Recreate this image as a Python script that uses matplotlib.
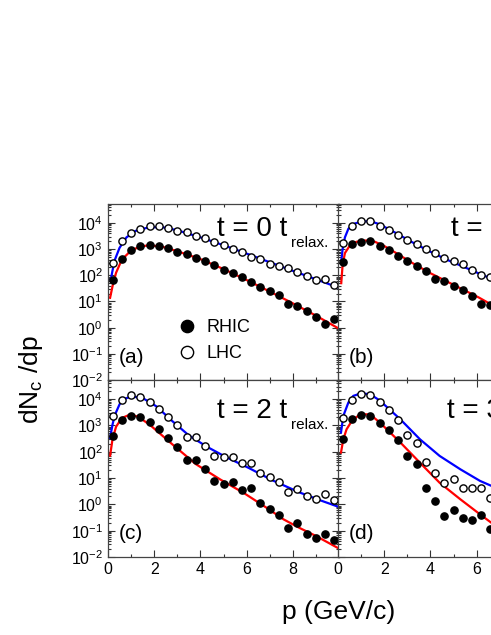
import numpy as np
import matplotlib
matplotlib.use("Agg")
import matplotlib.pyplot as plt
from matplotlib.ticker import LogLocator, MultipleLocator, NullFormatter

plt.rcParams['font.family'] = ['Liberation Sans', 'DejaVu Sans']
plt.rcParams['mathtext.default'] = 'regular'

# momentum of the data points (GeV/c)
p_pts = [0.2, 0.6, 1.0, 1.4, 1.8, 2.2, 2.6, 3.0, 3.4, 3.8, 4.2, 4.6, 5.0,
         5.4, 5.8, 6.2, 6.6, 7.0, 7.4, 7.8, 8.2, 8.6, 9.0, 9.4, 9.8]

# all values below are log10(dN/dp)
# (a) t = 0
lhc_a = [2.46, 3.32, 3.62, 3.76, 3.88, 3.88, 3.79, 3.70, 3.64, 3.51, 3.41, 3.27, 3.16,
         3.02, 2.88, 2.71, 2.61, 2.44, 2.36, 2.27, 2.13, 1.96, 1.83, 1.87, 1.63]
rhic_a = [1.81, 2.64, 2.95, 3.11, 3.16, 3.12, 3.03, 2.90, 2.80, 2.68, 2.54, 2.39, 2.22,
          2.08, 1.92, 1.73, 1.55, 1.40, 1.24, 0.91, 0.82, 0.63, 0.42, 0.13, 0.34]
pb_a = [0.12, 0.2, 0.3, 0.5, 0.8, 1.2, 1.8, 2.4, 3.0, 4.0, 5.0, 6.0, 7.0, 8.0, 9.0, 10.0]
blue_a = [1.83, 2.2, 2.6, 3.05, 3.45, 3.7, 3.84, 3.83, 3.72, 3.45, 3.15, 2.83, 2.5, 2.17, 1.85, 1.52]
pr_a = [0.09, 0.2, 0.35, 0.6, 1.0, 1.4, 1.8, 2.4, 3.0, 4.0, 5.0, 6.0, 7.0, 8.0, 9.0, 10.0]
red_a = [1.14, 1.6, 2.1, 2.6, 2.95, 3.1, 3.15, 3.08, 2.92, 2.62, 2.24, 1.82, 1.38, 0.93, 0.46, -0.04]

# (b) t = 1 (only the visible part)
lhc_b = [3.24, 3.90, 4.06, 4.09, 3.89, 3.75, 3.54, 3.35, 3.19, 2.99, 2.84, 2.68, 2.54,
         2.42, 2.21, 2.02, 1.93]
rhic_b = [2.50, 3.19, 3.28, 3.30, 3.13, 2.97, 2.75, 2.53, 2.34, 2.17, 1.87, 1.77, 1.58,
          1.43, 1.20, 0.92, 0.88]
pb_b = [0.15, 0.2, 0.3, 0.45, 0.7, 1.0, 1.4, 1.8, 2.5, 3.2, 4.0, 4.7, 5.4, 6.1, 6.7]
blue_b = [2.6, 3.0, 3.45, 3.78, 3.97, 4.05, 4.07, 3.95, 3.62, 3.27, 2.9, 2.6, 2.34, 2.07, 1.85]
pr_b = [0.14, 0.2, 0.3, 0.5, 0.8, 1.2, 1.6, 2.0, 2.5, 3.2, 4.0, 4.7, 5.4, 6.1, 6.7]
red_b = [1.7, 2.4, 2.85, 3.12, 3.28, 3.33, 3.28, 3.12, 2.86, 2.48, 2.08, 1.77, 1.46, 1.15, 0.85]

# (c) t = 2
lhc_c = [3.34, 3.97, 4.14, 4.08, 3.89, 3.63, 3.32, 3.00, 2.55, 2.56, 2.23, 1.85, 1.79,
         1.80, 1.59, 1.56, 1.18, 1.04, 0.85, 0.46, 0.60, 0.33, 0.19, 0.38, 0.16]
rhic_c = [2.59, 3.22, 3.37, 3.31, 3.12, 2.88, 2.52, 2.17, 1.70, 1.70, 1.35, 0.88, 0.79,
          0.86, 0.53, 0.64, 0.04, -0.16, -0.42, -0.88, -0.70, -1.12, -1.28, -1.12, -1.34]
pb_c = [0.09, 0.2, 0.3, 0.5, 0.7, 1.0, 1.5, 2.1, 2.8, 3.5, 4.3, 5.1, 6.1, 7.1, 8.3, 9.2, 10.0]
blue_c = [2.52, 3.05, 3.4, 3.8, 4.0, 4.1, 4.04, 3.72, 3.15, 2.62, 2.18, 1.8, 1.38, 0.92, 0.45, 0.15, -0.1]
pr_c = [0.09, 0.2, 0.35, 0.6, 0.95, 1.3, 1.8, 2.8, 3.8, 4.85, 5.9, 6.9, 7.6, 8.3, 9.0, 10.0]
red_c = [1.85, 2.5, 2.95, 3.28, 3.41, 3.33, 3.03, 2.27, 1.53, 0.95, 0.42, -0.15, -0.57, -0.9, -1.2, -1.68]

# (d) t = 3 (only the visible part)
lhc_d = [3.28, 3.97, 4.19, 4.14, 3.87, 3.57, 3.21, 2.64, 2.34, 1.60, 1.18, 0.80, 0.95,
         0.63, 0.63, 0.63, 0.25]
rhic_d = [2.50, 3.26, 3.41, 3.37, 3.09, 2.84, 2.45, 1.84, 1.52, 0.61, 0.12, -0.44, -0.22,
          -0.52, -0.58, -0.42, -0.95]
pb_d = [0.13, 0.23, 0.45, 0.66, 1.0, 1.4, 1.8, 2.7, 3.55, 4.4, 5.3, 6.15, 6.7]
blue_d = [2.73, 3.36, 3.87, 4.12, 4.22, 4.18, 3.95, 3.23, 2.47, 1.84, 1.33, 0.89, 0.68]
pr_d = [0.13, 0.23, 0.37, 0.6, 0.95, 1.25, 1.55, 1.82, 2.7, 3.55, 4.4, 5.3, 6.15, 6.7]
red_d = [1.97, 2.47, 2.85, 3.17, 3.42, 3.42, 3.3, 3.1, 2.35, 1.58, 0.82, 0.19, -0.38, -0.74]

panels = [
    ("(a)", "0", lhc_a, rhic_a, pb_a, blue_a, pr_a, red_a),
    ("(b)", "1", lhc_b, rhic_b, pb_b, blue_b, pr_b, red_b),
    ("(c)", "2", lhc_c, rhic_c, pb_c, blue_c, pr_c, red_c),
    ("(d)", "3", lhc_d, rhic_d, pb_d, blue_d, pr_d, red_d),
]

fig = plt.figure(figsize=(4.91, 6.35), dpi=100)
W, H = 491.0, 635.0
# axes boxes in pixels: (left, top, right, bottom)
boxes = [(108, 204, 339, 380), (338, 204, 569, 380),
         (108, 380, 339, 557), (338, 380, 569, 557)]
# text "t = n t_relax." baseline (axes fraction)
t_pos = [(0.47, 0.82), (0.49, 0.82), (0.47, 0.785), (0.47, 0.785)]

for k, (lab, tn, lhc, rhic, pb, blue, pr, red) in enumerate(panels):
    l, t, r, b = boxes[k]
    ax = fig.add_axes([l / W, (H - b) / H, (r - l) / W, (b - t) / H])
    ax.set_yscale('log')
    ax.plot(pb, np.power(10.0, blue), color='#0000ff', lw=1.6, zorder=2)
    ax.plot(pr, np.power(10.0, red), color='#ff0000', lw=1.6, zorder=2)
    n = len(lhc)
    ax.plot(p_pts[:n], np.power(10.0, rhic), 'o', color='black', ms=5.2,
            zorder=3, label='RHIC')
    ax.plot(p_pts[:n], np.power(10.0, lhc), 'o', mfc='white', mec='black',
            mew=1.0, ms=5.2, zorder=3, label='LHC')
    ax.set_xlim(0, 10)
    ax.set_ylim(1e-2, 5.3e4)
    ax.yaxis.set_major_locator(LogLocator(base=10, numticks=20))
    ax.yaxis.set_minor_locator(LogLocator(base=10, subs=np.arange(2, 10), numticks=20))
    ax.yaxis.set_minor_formatter(NullFormatter())
    ax.xaxis.set_major_locator(MultipleLocator(2))
    ax.xaxis.set_minor_locator(MultipleLocator(1))
    ax.tick_params(which='both', direction='in', top=True, right=True,
                   labelsize=11.5, color='#333333', width=0.8)
    ax.tick_params(which='major', length=5)
    ax.tick_params(which='minor', length=2.5)
    for s in ax.spines.values():
        s.set_color('#444444')
        s.set_linewidth(0.9)
    if k < 2:
        ax.tick_params(labelbottom=False)
    else:
        if k == 2:
            ax.set_xticks([0, 2, 4, 6, 8, 10])
            ax.set_xticklabels(['0', '2', '4', '6', '8', ''])
    if k % 2 == 1:
        ax.tick_params(labelleft=False)
    ax.text(0.045, 0.13, lab, transform=ax.transAxes, fontsize=15, va='center')
    tt = ax.text(t_pos[k][0], t_pos[k][1], "t = " + tn + " t", transform=ax.transAxes,
                 fontsize=20, va='baseline')
    ax.annotate("relax.", xy=(1, 0), xycoords=tt, xytext=(3, -3.5),
                textcoords='offset points', fontsize=11, va='baseline')
    if k == 0:
        ax.legend(loc='lower left', bbox_to_anchor=(0.24, 0.03), frameon=False,
                  fontsize=13, markerscale=1.7, handletextpad=0.5,
                  labelspacing=0.5, handlelength=1.2, borderpad=0.2)

fig.text(31 / W, 1 - 380 / H, r'dN$_{c}$ /dp', rotation=90, fontsize=19,
         ha='center', va='center')
fig.text(339 / W, 1 - 612 / H, 'p (GeV/c)', fontsize=19, ha='center', va='center')

fig.savefig('out.png', dpi=100)
